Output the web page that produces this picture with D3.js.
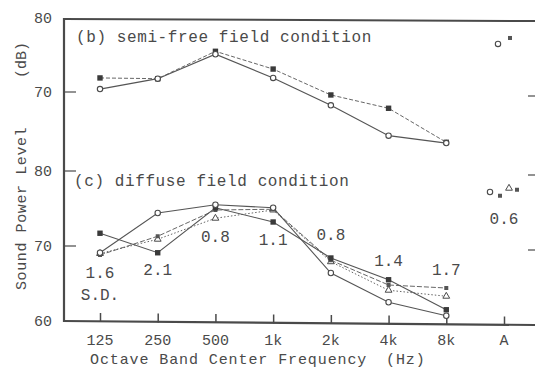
<!DOCTYPE html>
<html>
<head>
<meta charset="utf-8">
<script src="https://cdn.jsdelivr.net/npm/d3@7"></script>
<style>
  body { margin: 0; background: #fff; }
  text { font-family: "Liberation Mono", "DejaVu Sans Mono", monospace; fill: #4a4a4a; }
</style>
</head>
<body>
<script>
"use strict";

// Octave band categories, "A" is the A-weighted overall value.
const bands = ["125", "250", "500", "1k", "2k", "4k", "8k"];
const categories = bands.concat(["A"]);

// (b) semi-free field condition
const semiOpen = [70.4, 71.8, 75.1, 71.9, 68.2, 64.1, 63.1];
const semiFilled = [71.9, 71.8, 75.5, 73.1, 69.6, 67.8, 63.2];
const semiA = [76.5, 77.3];

// (c) diffuse field condition
const diffOpen = [69.1, 74.4, 75.5, 75.1, 66.4, 62.5, 60.7];
const diffFilled = [71.7, 69.1, 75.1, 73.2, 68.4, 65.5, 61.5];
const diffSmall = [68.8, 71.3, 74.8, 74.9, 68.1, 64.8, 64.4];
const diffTri = [69.0, 70.9, 73.7, 74.8, 67.9, 64.1, 63.3];
const diffA = [77.2, 76.7, 77.7, 77.5];

// standard deviations printed under the curves
const sdLabels = ["1.6", "2.1", "0.8", "1.1", "0.8", "1.4", "1.7", "0.6"];
const sdValues = [65.8, 66.2, 70.6, 70.1, 70.8, 67.3, 66.2, 73.0];

const width = 535, height = 370;
const ink = "#4a4a4a";
const lineInk = "#555";

let svg = d3.select("body").append("svg")
    .attr("width", width)
    .attr("height", height);

let x = d3.scalePoint().domain(categories).range([100, 504]);
let yTop = d3.scaleLinear().domain([70, 80]).range([92, 18]);
let yBot = d3.scaleLinear().domain([60, 80]).range([321, 171]);

// frame: left axis, top line, bottom axis
svg.append("line").attr("x1", 64).attr("x2", 64).attr("y1", 18).attr("y2", 322)
    .attr("stroke", ink).attr("stroke-width", 2.2);
svg.append("line").attr("x1", 63).attr("x2", width).attr("y1", 19).attr("y2", 21)
    .attr("stroke", ink).attr("stroke-width", 2);
svg.append("line").attr("x1", 63).attr("x2", width).attr("y1", 321).attr("y2", 325)
    .attr("stroke", ink).attr("stroke-width", 2.2);

// x ticks pointing up
let xAxis = d3.axisTop(x).tickSize(8).tickFormat("");
svg.append("g").attr("transform", "translate(0,322)").call(xAxis)
    .call(g => g.select(".domain").remove())
    .call(g => g.selectAll("line").attr("stroke", ink).attr("stroke-width", 1.5)
      .attr("transform", (d, i) => `translate(0,${i * 0.5})`).attr("y2", -9));

svg.append("g").selectAll("text").data(categories).join("text")
    .attr("x", d => x(d))
    .attr("y", 345)
    .attr("text-anchor", "middle")
    .attr("font-size", 15)
    .text(d => d);

svg.append("text")
    .attr("x", 90).attr("y", 364)
    .attr("font-size", 15)
    .attr("letter-spacing", 0.9)
    .text("Octave Band Center Frequency");
svg.append("text")
    .attr("x", 386).attr("y", 364)
    .attr("font-size", 15)
    .attr("letter-spacing", 0.9)
    .text("(Hz)");

// y ticks and labels
const yTicks = [
  {v: 80, y: yTop(80), mark: false},
  {v: 70, y: yTop(70), mark: true},
  {v: 80, y: yBot(80), mark: true},
  {v: 70, y: yBot(70), mark: true},
  {v: 60, y: yBot(60), mark: false}
];
svg.append("g").selectAll("text").data(yTicks).join("text")
    .attr("x", 52).attr("y", d => d.y + 5)
    .attr("text-anchor", "end")
    .attr("font-size", 15)
    .text(d => d.v);
svg.append("g").selectAll("line").data(yTicks.filter(d => d.mark)).join("line")
    .attr("x1", 64).attr("x2", 76)
    .attr("y1", d => d.y).attr("y2", d => d.y)
    .attr("stroke", ink).attr("stroke-width", 1.2);
// right side ticks (cut off frame)
svg.append("g").selectAll("line").data([yTop(70), yBot(80), yBot(70)]).join("line")
    .attr("x1", 528).attr("x2", width)
    .attr("y1", d => d + 4).attr("y2", d => d + 4)
    .attr("stroke", ink).attr("stroke-width", 1.2);

svg.append("text")
    .attr("transform", "translate(26,290) rotate(-90)")
    .attr("font-size", 15)
    .attr("letter-spacing", 0.6)
    .text("Sound Power Level");
svg.append("text")
    .attr("transform", "translate(26,78) rotate(-90)")
    .attr("font-size", 15)
    .text("(dB)");

// panel titles
svg.append("text").attr("x", 76).attr("y", 42)
    .attr("font-size", 16).attr("letter-spacing", 0.6)
    .text("(b) semi-free field condition");
svg.append("text").attr("x", 74).attr("y", 186)
    .attr("font-size", 16).attr("letter-spacing", 0.6)
    .text("(c) diffuse field condition");

function drawSeries(values, y, dash, width, marker) {
  let line = d3.line()
      .x((d, i) => x(bands[i]))
      .y(d => y(d));
  svg.append("path")
      .datum(values)
      .attr("fill", "none")
      .attr("stroke", lineInk)
      .attr("stroke-width", width)
      .attr("stroke-dasharray", dash)
      .attr("d", line);
  let pts = values.map((v, i) => ({cx: x(bands[i]), cy: y(v)}));
  drawMarkers(pts, marker);
}

function drawMarkers(pts, marker) {
  let g = svg.append("g");
  if (marker === "circle") {
    g.selectAll("circle").data(pts).join("circle")
      .attr("cx", d => d.cx).attr("cy", d => d.cy).attr("r", 2.7)
      .attr("fill", "#fff").attr("stroke", ink).attr("stroke-width", 1.1);
  } else if (marker === "square") {
    g.selectAll("rect").data(pts).join("rect")
      .attr("x", d => d.cx - 2.7).attr("y", d => d.cy - 2.7)
      .attr("width", 5.4).attr("height", 5.4)
      .attr("fill", "#3a3a3a");
  } else if (marker === "small") {
    g.selectAll("rect").data(pts).join("rect")
      .attr("x", d => d.cx - 2).attr("y", d => d.cy - 2)
      .attr("width", 4).attr("height", 4)
      .attr("fill", "#555");
  } else if (marker === "triangle") {
    let sym = d3.symbol().type(d3.symbolTriangle).size(20);
    g.selectAll("path").data(pts).join("path")
      .attr("transform", d => `translate(${d.cx},${d.cy})`)
      .attr("d", sym)
      .attr("fill", "#fff").attr("stroke", ink).attr("stroke-width", 1);
  }
}

// (b)
drawSeries(semiFilled, yTop, "4,2", 0.9, "square");
drawSeries(semiOpen, yTop, null, 1.2, "circle");
drawMarkers([{cx: x("A") - 6, cy: yTop(semiA[0])}], "circle");
drawMarkers([{cx: x("A") + 6, cy: yTop(semiA[1])}], "small");

// (c)
drawSeries(diffTri, yBot, "1.5,2", 0.9, "triangle");
drawSeries(diffSmall, yBot, "5,2", 0.9, "small");
drawSeries(diffFilled, yBot, null, 1.1, "square");
drawSeries(diffOpen, yBot, null, 1.1, "circle");
drawMarkers([{cx: x("A") - 14, cy: yBot(diffA[0])}], "circle");
drawMarkers([{cx: x("A") - 4, cy: yBot(diffA[1])}], "small");
drawMarkers([{cx: x("A") + 5, cy: yBot(diffA[2])}], "triangle");
drawMarkers([{cx: x("A") + 13, cy: yBot(diffA[3])}], "small");

// S.D. numbers
svg.append("g").selectAll("text").data(sdLabels).join("text")
    .attr("x", (d, i) => x(categories[i]))
    .attr("y", (d, i) => yBot(sdValues[i]))
    .attr("text-anchor", "middle")
    .attr("font-size", 16)
    .text(d => d);
svg.append("text")
    .attr("x", x("125")).attr("y", yBot(62.8))
    .attr("text-anchor", "middle")
    .attr("font-size", 16)
    .text("S.D.");
</script>
</body>
</html>
